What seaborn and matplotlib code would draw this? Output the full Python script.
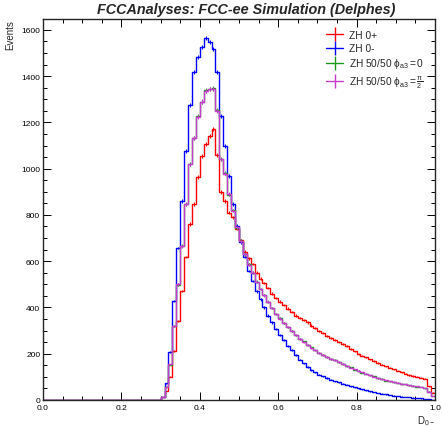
import numpy as np
import matplotlib
matplotlib.use('Agg')
import matplotlib.pyplot as plt
import seaborn as sns
from matplotlib.lines import Line2D
from matplotlib.ticker import MultipleLocator

# bins of width 0.01 from D = 0.30 up to 1.00 (everything below 0.30 is empty)
first_bin = 0.30
zh_plus = [13, 39, 100, 212, 342, 471, 618, 761, 848, 964,
           1055, 1107, 1142, 1172, 1060, 900, 860, 810, 790, 740,
           690, 640, 612, 588, 550, 525, 505, 485, 460, 440,
           425, 410, 395, 380, 365, 355, 345, 335, 322, 310,
           298, 288, 278, 268, 260, 252, 242, 232, 220, 210,
           200, 192, 184, 176, 168, 160, 153, 146, 140, 133,
           126, 120, 114, 108, 104, 100, 97, 92, 60, 32]
zh_minus = [13, 73, 207, 428, 657, 860, 1077, 1276, 1418, 1483,
            1525, 1565, 1548, 1518, 1418, 1228, 1098, 969, 848, 752,
            683, 620, 558, 515, 470, 435, 400, 365, 335, 305,
            280, 258, 235, 215, 195, 175, 158, 143, 130, 120,
            110, 102, 95, 88, 82, 76, 70, 65, 60, 55,
            50, 46, 42, 38, 34, 31, 27, 24, 21, 19,
            17, 15, 14, 12, 10, 9, 7, 5, 3, 1]
zh_mix0 = [12, 57, 153, 321, 498, 667, 846, 1020, 1131, 1226,
           1288, 1338, 1344, 1347, 1252, 1042, 980, 888, 820, 744,
           688, 629, 586, 550, 511, 479, 453, 424, 399, 371,
           353, 333, 316, 297, 281, 264, 253, 238, 227, 214,
           205, 194, 187, 177, 172, 163, 157, 147, 141, 131,
           126, 118, 114, 106, 102, 94, 91, 84, 82, 77,
           74, 69, 67, 63, 62, 58, 56, 51, 36, 17]
zh_mix_pi2 = [13, 56, 154, 320, 500, 665, 848, 1018, 1133, 1224,
              1290, 1336, 1345, 1345, 1250, 1040, 979, 890, 819, 746,
              686, 630, 585, 551, 510, 480, 452, 425, 398, 372,
              352, 334, 315, 298, 280, 265, 252, 239, 226, 215,
              204, 195, 186, 178, 171, 164, 156, 148, 140, 132,
              125, 119, 113, 107, 101, 95, 90, 85, 82, 78,
              74, 70, 67, 64, 62, 59, 56, 52, 36, 18]

series = [
    ('ZH 0+', zh_plus, '#ff0000'),
    ('ZH 0-', zh_minus, '#0000ff'),
    (r'ZH 50/50 $\phi_{a3} = 0$', zh_mix0, '#1a9a1a'),
    (r'ZH 50/50 $\phi_{a3} = \frac{\pi}{2}$', zh_mix_pi2, '#c63ccc'),
]

sns.set_style('ticks')
plt.rcParams['font.family'] = ['Liberation Sans', 'DejaVu Sans']
plt.rcParams['mathtext.fontset'] = 'custom'
plt.rcParams['mathtext.rm'] = 'Liberation Sans'
plt.rcParams['mathtext.it'] = 'Liberation Sans'

fig = plt.figure(figsize=(4.42, 4.27), dpi=100)
ax = fig.add_axes([0.0973, 0.0609, 0.8867, 0.8923])

handles = []
for label, vals, col in series:
    vals = np.array(vals, dtype=float)
    centers = first_bin + 0.005 + 0.01 * np.arange(len(vals))
    sns.histplot(x=centers, weights=vals, bins=100, binrange=(0, 1),
                 element='step', fill=False, color=col, linewidth=1.0, ax=ax)
    # small stat. error bars like ROOT's "E" option (weighted MC)
    ax.errorbar(centers, vals, yerr=0.25 * np.sqrt(vals), fmt='none',
                ecolor=col, elinewidth=0.8, capsize=0)
    handles.append(Line2D([], [], color=col, lw=1.0, marker='|',
                          markersize=10, markeredgewidth=1.0, label=label))

ax.set_xlim(0, 1)
ax.set_ylim(0, 1647)
ax.xaxis.set_major_locator(MultipleLocator(0.2))
ax.xaxis.set_minor_locator(MultipleLocator(0.05))
ax.yaxis.set_major_locator(MultipleLocator(200))
ax.yaxis.set_minor_locator(MultipleLocator(50))
ax.tick_params(which='both', direction='in', top=True, right=True,
               labelsize=6, colors='black', pad=2)
ax.tick_params(axis='x', which='both', pad=3)
ax.tick_params(which='major', length=6, width=0.7)
ax.tick_params(which='minor', length=3, width=0.7)
for s in ax.spines.values():
    s.set_linewidth(1.0)

ax.set_ylabel('Events', loc='top', fontsize=7)
ax.yaxis.set_label_coords(-0.072, 1.0)
ax.set_xlabel(r'D$_{0-}$', loc='right', fontsize=7)
ax.xaxis.set_label_coords(1.0, -0.035)

ax.legend(handles=handles, loc='upper left', bbox_to_anchor=(0.70, 0.995),
          frameon=False, fontsize=7.3, handlelength=1.6, handletextpad=0.6,
          labelspacing=0.3)

fig.text(0.557, 0.976, 'FCCAnalyses: FCC-ee Simulation (Delphes)',
         ha='center', va='center', fontsize=10.4, fontweight='bold',
         fontstyle='italic')

fig.savefig('out.png', dpi=100)
